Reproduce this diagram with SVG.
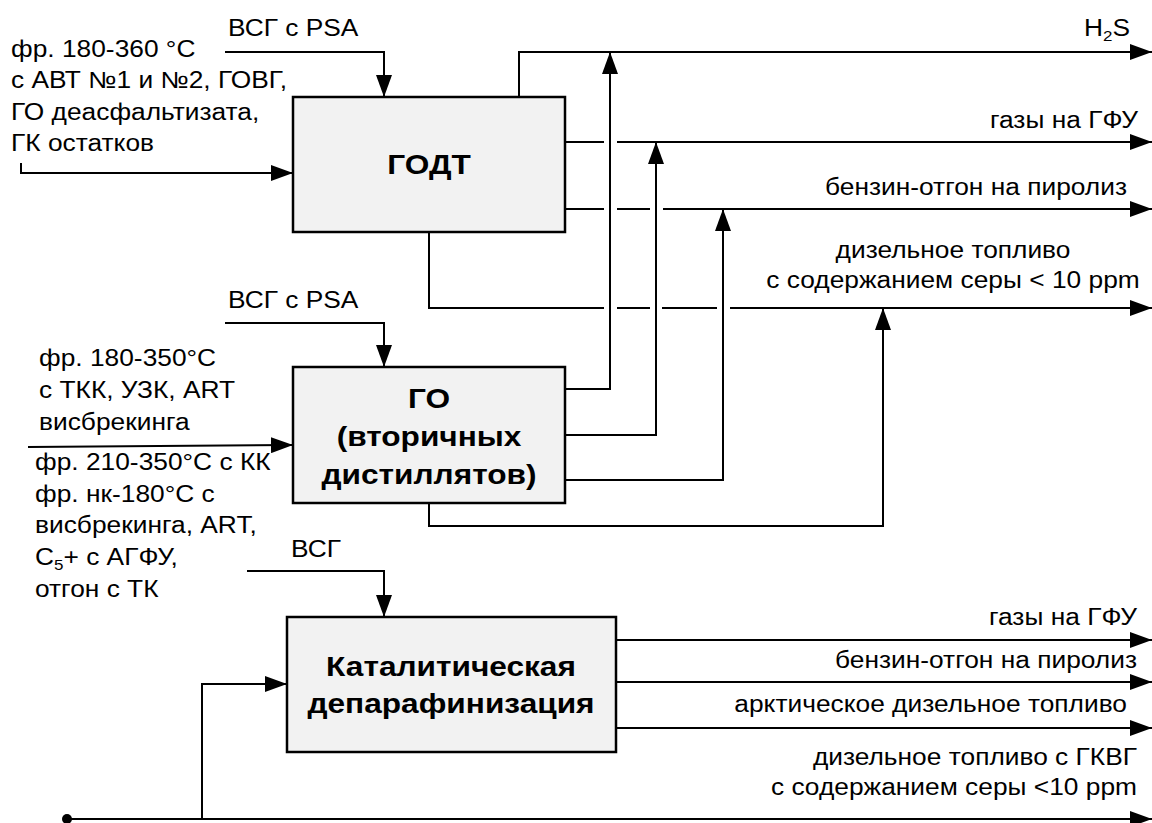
<svg xmlns="http://www.w3.org/2000/svg" width="1152" height="823" viewBox="0 0 1152 823">
  <defs>
    <marker id="arrow" viewBox="0 0 22 16" refX="22" refY="8" markerWidth="22" markerHeight="16" markerUnits="userSpaceOnUse" orient="auto">
      <path d="M0,0 L22,8 L0,16 z" fill="#000"/>
    </marker>
  </defs>
  <style>
    .t{font-family:"Liberation Sans",Arial,sans-serif;font-size:23.3px;fill:#000}
    .b{font-family:"Liberation Sans",Arial,sans-serif;font-size:28px;font-weight:bold;fill:#000;text-anchor:middle}
    .e{text-anchor:end}
    .m{text-anchor:middle}
    .ln{fill:none;stroke:#000;stroke-width:2}
    .ar{marker-end:url(#arrow)}
    .box{fill:#f2f2f2;stroke:#000;stroke-width:2.5}
    .sub{font-size:15px}
  </style>
  <rect width="1152" height="823" fill="#fff"/>

  <!-- process units -->
  <g id="godt">
    <rect class="box" x="293" y="97" width="272" height="135"/>
    <text class="b" transform="translate(429 174) scale(1.13 1)">ГОДТ</text>
  </g>
  <g id="go">
    <rect class="box" x="293" y="367" width="272" height="136"/>
    <text class="b" transform="translate(429 408) scale(1.13 1)">ГО</text>
    <text class="b" transform="translate(429 446) scale(1.13 1)">(вторичных</text>
    <text class="b" transform="translate(429 484) scale(1.13 1)">дистиллятов)</text>
  </g>
  <g id="kd">
    <rect class="box" x="287" y="617" width="329" height="135"/>
    <text class="b" transform="translate(451 676) scale(1.13 1)">Каталитическая</text>
    <text class="b" transform="translate(451 713) scale(1.13 1)">депарафинизация</text>
  </g>

  <!-- streams -->
  <g id="connectors">
    <path class="ln ar" d="M225,52 H384 V97"/>
    <path class="ln ar" d="M21,163 V173 H293"/>
    <path class="ln ar" d="M519,97 V52 H1152"/>
    <path class="ln ar" d="M565,389 H610 V52"/>
    <path class="ln" d="M565,142 H604"/>
    <path class="ln ar" d="M617,142 H1152"/>
    <path class="ln ar" d="M565,435 H656 V142"/>
    <path class="ln" d="M565,209 H604 M617,209 H650"/>
    <path class="ln ar" d="M663,209 H1152"/>
    <path class="ln ar" d="M565,480 H723 V209"/>
    <path class="ln" d="M429,232 V308 H604 M617,308 H650 M662,308 H717"/>
    <path class="ln ar" d="M730,308 H1152"/>
    <path class="ln ar" d="M429,503 V526 H883 V308"/>
    <path class="ln ar" d="M225,323 H384 V367"/>
    <path class="ln ar" d="M28,447 L293,445"/>
    <path class="ln ar" d="M247,571 H384 V617"/>
    <path class="ln ar" d="M67,819 H1152"/>
    <circle cx="67" cy="819" r="5" fill="#000"/>
    <path class="ln ar" d="M202,819 V684 H287"/>
    <path class="ln ar" d="M616,640 H1152"/>
    <path class="ln ar" d="M616,682 H1152"/>
    <path class="ln ar" d="M616,728 H1152"/>
  </g>

  <!-- stream labels -->
  <g id="labels">
    <text class="t" transform="translate(228 36) scale(1.13 1)">ВСГ с PSA</text>
    <text class="t" transform="translate(11 57) scale(1.13 1)">фр. 180-360 °C</text>
    <text class="t" transform="translate(11 88) scale(1.13 1)">с АВТ №1 и №2, ГОВГ,</text>
    <text class="t" transform="translate(11 120) scale(1.13 1)">ГО деасфальтизата,</text>
    <text class="t" transform="translate(11 151) scale(1.13 1)">ГК остатков</text>

    <text class="t e" transform="translate(1130 36) scale(1.13 1)">H<tspan class="sub" dy="5">2</tspan><tspan dy="-5">S</tspan></text>
    <text class="t e" transform="translate(1138 128) scale(1.13 1)">газы на ГФУ</text>
    <text class="t e" transform="translate(1127 195) scale(1.13 1)">бензин-отгон на пиролиз</text>
    <text class="t m" transform="translate(953 258) scale(1.13 1)">дизельное топливо</text>
    <text class="t m" transform="translate(953 288) scale(1.13 1)">с содержанием серы &lt; 10 ppm</text>

    <text class="t" transform="translate(228 308) scale(1.13 1)">ВСГ с PSA</text>
    <text class="t" transform="translate(39 366) scale(1.13 1)">фр. 180-350°С</text>
    <text class="t" transform="translate(39 398) scale(1.13 1)">с ТКК, УЗК, ART</text>
    <text class="t" transform="translate(39 430) scale(1.13 1)">висбрекинга</text>
    <text class="t" transform="translate(35 470) scale(1.13 1)">фр. 210-350°С с КК</text>
    <text class="t" transform="translate(35 502) scale(1.13 1)">фр. нк-180°С с</text>
    <text class="t" transform="translate(35 533) scale(1.13 1)">висбрекинга, ART,</text>
    <text class="t" transform="translate(35 565) scale(1.13 1)">С<tspan class="sub" dy="5">5</tspan><tspan dy="-5">+ с АГФУ,</tspan></text>
    <text class="t" transform="translate(35 597) scale(1.13 1)">отгон с ТК</text>
    <text class="t" transform="translate(291 557) scale(1.13 1)">ВСГ</text>

    <text class="t e" transform="translate(1137 625) scale(1.13 1)">газы на ГФУ</text>
    <text class="t e" transform="translate(1137 668) scale(1.13 1)">бензин-отгон на пиролиз</text>
    <text class="t e" transform="translate(1127 712) scale(1.13 1)">арктическое дизельное топливо</text>
    <text class="t e" transform="translate(1137 765) scale(1.13 1)">дизельное топливо с ГКВГ</text>
    <text class="t e" transform="translate(1137 795) scale(1.13 1)">с содержанием серы &lt;10 ppm</text>
  </g>
</svg>
